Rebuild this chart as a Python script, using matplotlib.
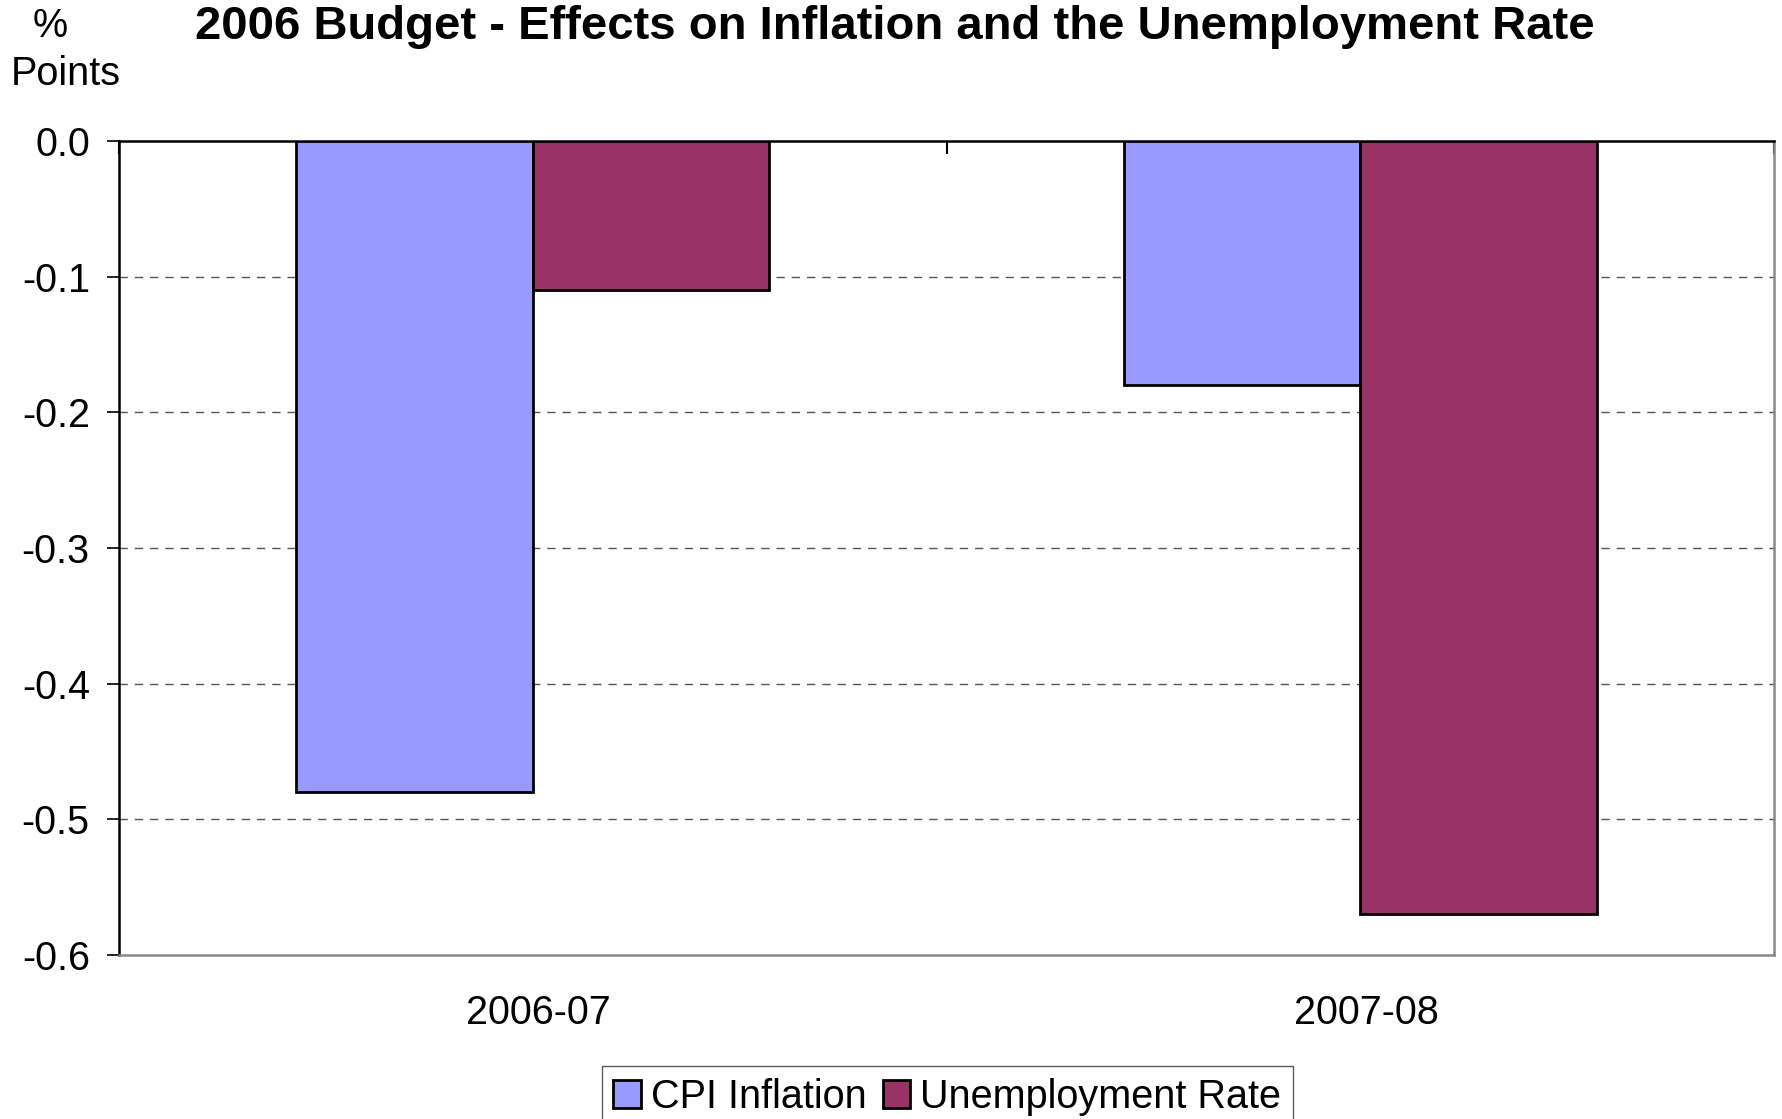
import matplotlib.pyplot as plt
import matplotlib.transforms as mtransforms
import numpy as np

plt.rcParams['font.family'] = ['Liberation Sans', 'DejaVu Sans']

years = ["2006-07", "2007-08"]
cpi = [-0.48, -0.18]
unemp = [-0.11, -0.57]
yticks = [0.0, -0.1, -0.2, -0.3, -0.4, -0.5, -0.6]

fig = plt.figure(figsize=(17.82, 11.19), dpi=100)
ax = fig.add_axes([0.0668, 0.1466, 0.9287, 0.7274])

x = np.arange(len(years))
w = 0.286
ax.bar(x - w/2, cpi, w, color="#9999FF", edgecolor="black", linewidth=2, label="CPI Inflation", zorder=3)
ax.bar(x + w/2, unemp, w, color="#993366", edgecolor="black", linewidth=2, label="Unemployment Rate", zorder=3)

ax.set_xlim(-0.5, 1.5)
ax.set_ylim(-0.6, 0.0)
ax.set_yticks(yticks)
ax.set_yticklabels(["%.1f" % v for v in yticks], fontsize=28.5)
ax.set_xticks(x)
ax.set_xticklabels(years, fontsize=28.5)
ax.set_xticks([-0.5, 0.5, 1.5], minor=True)
ax.tick_params(axis='x', which='major', length=0, pad=28)
ax.tick_params(axis='x', which='minor', bottom=False, top=True, direction='in', length=9, width=1.5)
ax.tick_params(axis='y', length=9, width=1.2, pad=12)

# labels sit a touch right of the category centre in the original
shift = mtransforms.ScaledTranslation(0.06, 0, fig.dpi_scale_trans)
for lbl in ax.get_xticklabels():
    lbl.set_transform(lbl.get_transform() + shift)

for v in yticks[1:-1]:
    ax.axhline(v, color="#555555", linestyle=(0, (6, 5)), linewidth=1, zorder=1)

ax.spines['left'].set_color('black')
ax.spines['left'].set_linewidth(1.8)
ax.spines['top'].set_color('black')
ax.spines['top'].set_linewidth(1.8)
ax.spines['bottom'].set_color('#888888')
ax.spines['bottom'].set_linewidth(1.8)
ax.spines['right'].set_color('#888888')
ax.spines['right'].set_linewidth(1.8)

fig.text(0.502, 0.976, "2006 Budget - Effects on Inflation and the Unemployment Rate",
         ha='center', va='center', fontsize=34, fontweight='bold')
fig.text(0.028, 0.977, "%", ha='center', va='center', fontsize=28.5)
fig.text(0.037, 0.934, "Points", ha='center', va='center', fontsize=28.5)

leg = fig.legend(loc='upper center', bbox_to_anchor=(0.5316, 0.0474), ncol=2, fontsize=28.5,
                 frameon=True, fancybox=False, edgecolor='#333333', handlelength=0.7,
                 handleheight=0.7, handletextpad=0.25, columnspacing=0.4, borderpad=0.3,
                 borderaxespad=0)
leg.get_frame().set_linewidth(1)

fig.savefig("out.png", dpi=100)
